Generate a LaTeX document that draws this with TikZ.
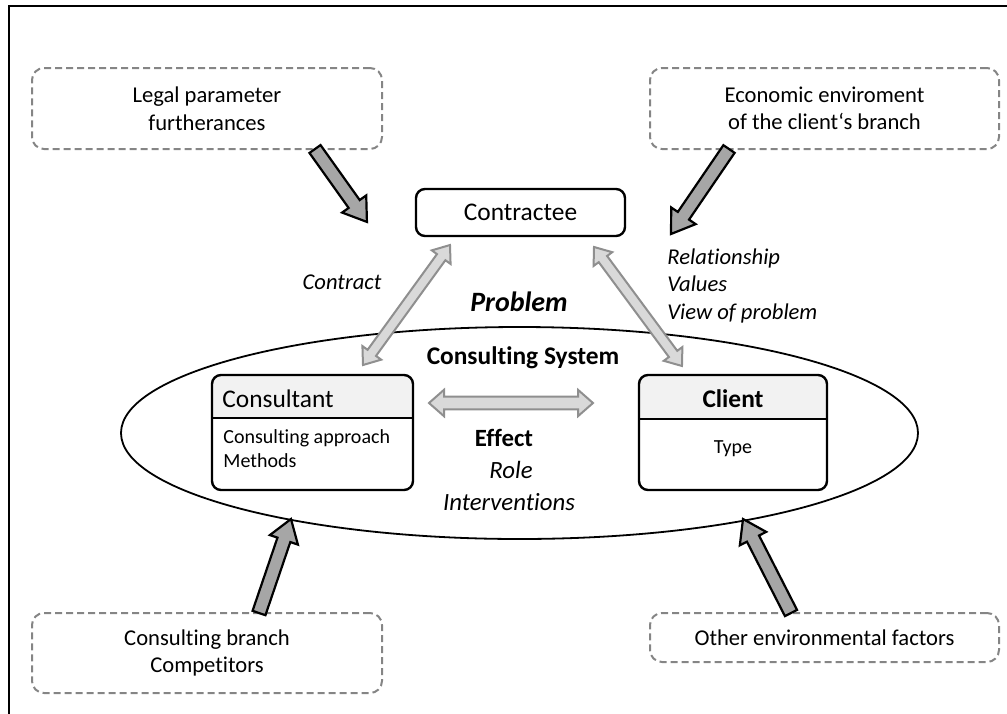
\documentclass[tikz,border=0pt]{standalone}
\usepackage{fontspec}
\setmainfont{Carlito}[Ligatures=NoCommon]
\usetikzlibrary{calc}
\definecolor{dashgray}{HTML}{858585}
\definecolor{darkfill}{HTML}{A6A6A6}
\definecolor{lightfill}{HTML}{D9D9D9}
\definecolor{lightline}{HTML}{8F8F8F}
\definecolor{hdrgray}{HTML}{F2F2F2}
\newcommand\fXL{\fontsize{14}{16.8}\selectfont}
\newcommand\fL{\fontsize{12.7}{15.2}\selectfont}
\newcommand\fE{\fontsize{12.4}{15}\selectfont}
\newcommand\fM{\fontsize{11.3}{13.75}\selectfont}
\newcommand\fS{\fontsize{10}{12}\selectfont}
% block arrow: #1 style, #2 from, #3 to, #4 half shaft, #5 half head, #6 head length (pt)
\newcommand\blkarrow[6]{%
  \path (#2); \pgfgetlastxy{\bax}{\bay}%
  \path (#3); \pgfgetlastxy{\bbx}{\bby}%
  \pgfmathsetmacro\bang{atan2(\bby-\bay,\bbx-\bax)}%
  \pgfmathsetmacro\blen{veclen(\bbx-\bax,\bby-\bay)}%
  \pgfmathsetmacro\bhb{\blen-#6}%
  \draw[#1,shift={(\bax,\bay)},rotate=\bang] (0pt,-#4pt) -- (\bhb pt,-#4pt) -- (\bhb pt,-#5pt) -- (\blen pt,0pt) -- (\bhb pt,#5pt) -- (\bhb pt,#4pt) -- (0pt,#4pt) -- cycle;}
\newcommand\dblarrow[6]{%
  \path (#2); \pgfgetlastxy{\bax}{\bay}%
  \path (#3); \pgfgetlastxy{\bbx}{\bby}%
  \pgfmathsetmacro\bang{atan2(\bby-\bay,\bbx-\bax)}%
  \pgfmathsetmacro\blen{veclen(\bbx-\bax,\bby-\bay)}%
  \pgfmathsetmacro\bhb{\blen-#6}%
  \draw[#1,shift={(\bax,\bay)},rotate=\bang] (0pt,0pt) -- (#6pt,#5pt) -- (#6pt,#4pt) -- (\bhb pt,#4pt) -- (\bhb pt,#5pt) -- (\blen pt,0pt) -- (\bhb pt,-#5pt) -- (\bhb pt,-#4pt) -- (#6pt,-#4pt) -- (#6pt,-#5pt) -- cycle;}
\tikzset{
  envbox/.style={draw=dashgray, line width=1pt, dash pattern=on 3.5pt off 2pt, rounded corners=6pt, align=center, font=\fM, inner sep=0pt},
  mainbox/.style={draw, line width=1.2pt, rounded corners=4.5pt, inner sep=0pt},
  darkarrow/.style={fill=darkfill, draw=black, line width=1.1pt, line join=miter},
  lightarrow/.style={fill=lightfill, draw=lightline, line width=1pt, line join=miter},
  lbl/.style={inner sep=0pt, align=left}
}
\begin{document}
\begin{tikzpicture}[x=0.5pt, y=-0.5pt]
\useasboundingbox (0,0) rectangle (1007,713);
% outer frame
\draw[line width=1.1pt] (9,716) -- (9,6) -- (1010,6);

% environment boxes
\node[envbox, minimum width=175pt, minimum height=40.5pt] (legal) at (207,108.5) {Legal parameter\\furtherances};
\node[envbox, minimum width=174.5pt, minimum height=40.5pt] (econ) at (824.5,108.5) {Economic enviroment\\of the client‘s branch};
\node[envbox, minimum width=175pt, minimum height=40pt] (branch) at (207,653) {Consulting branch\\Competitors};
\node[envbox, minimum width=174.5pt, minimum height=24.5pt] (other) at (824.5,637.5) {Other environmental factors};

% contractee
\node[mainbox, minimum width=104.5pt, minimum height=23.5pt, font=\fL] (contractee) at (520.5,212.5) {Contractee};

% ellipse
\draw[line width=0.9pt] (519.5,433) ellipse [x radius=199.25pt, y radius=53pt];
\node[font=\fL\bfseries, inner sep=0pt] (system) at (523,358) {Consulting System};

% consultant box
\begin{scope}
\clip[rounded corners=4.5pt] (212,375) rectangle (413,490);
\fill[hdrgray] (212,375) rectangle (413,418);
\end{scope}
\draw[line width=1.2pt] (212,418) -- (413,418);
\node[mainbox, minimum width=100.5pt, minimum height=57.5pt] (consultant) at (312.5,432.5) {};
\node[lbl, anchor=west, font=\fL] (consT) at (222,399) {Consultant};
\node[lbl, anchor=west, font=\fS] (consB) at (223,448.5) {Consulting approach\\Methods};

% client box
\begin{scope}
\clip[rounded corners=4.5pt] (639,375) rectangle (827,490);
\fill[hdrgray] (639,375) rectangle (827,419);
\end{scope}
\draw[line width=1.2pt] (639,419) -- (827,419);
\node[mainbox, minimum width=94pt, minimum height=57.5pt] (client) at (733,432.5) {};
\node[inner sep=0pt, font=\fL\bfseries] (clientT) at (733,399) {Client};
\node[inner sep=0pt, font=\fS] (clientB) at (733,449) {Type};

% labels
\node[lbl, font=\fM\itshape] (contract) at (342,282) {Contract};
\node[lbl, font=\fXL\bfseries\itshape] (problem) at (519,302) {Problem};
\node[lbl, anchor=west, font=\fM\itshape] (rel) at (667,285.5) {Relationship\\Values\\View of problem};
\node[lbl, font=\fE\bfseries] (effect) at (504,438) {Effect};
\node[lbl, font=\fE\itshape] (role) at (511,470) {Role};
\node[lbl, font=\fE\itshape] (interv) at (509,502) {Interventions};

% arrow end points
\coordinate (legalA) at (315,149);
\coordinate (legalB) at (367,222);
\coordinate (econA) at (729,149);
\coordinate (econB) at (671,234);
\coordinate (branchA) at (259,613);
\coordinate (branchB) at (291,519);
\coordinate (otherA) at (791,613);
\coordinate (otherB) at (743,519);
\coordinate (conA) at (363,365);
\coordinate (conB) at (450,245);
\coordinate (cliA) at (594,247);
\coordinate (cliB) at (682,366);
\coordinate (midA) at (429,403);
\coordinate (midB) at (593,403);

% dark influence arrows
\blkarrow{darkarrow}{legalA}{legalB}{3.4}{7.4}{11}
\blkarrow{darkarrow}{econA}{econB}{3.4}{7.4}{11}
\blkarrow{darkarrow}{branchA}{branchB}{3.4}{7.4}{11}
\blkarrow{darkarrow}{otherA}{otherB}{3.4}{7.4}{11}

% light double arrows
\dblarrow{lightarrow}{conA}{conB}{2.6}{5.8}{7.5}
\dblarrow{lightarrow}{cliA}{cliB}{2.6}{5.8}{7.5}
\dblarrow{lightarrow}{midA}{midB}{3.2}{6.6}{7.5}
\end{tikzpicture}
\end{document}
